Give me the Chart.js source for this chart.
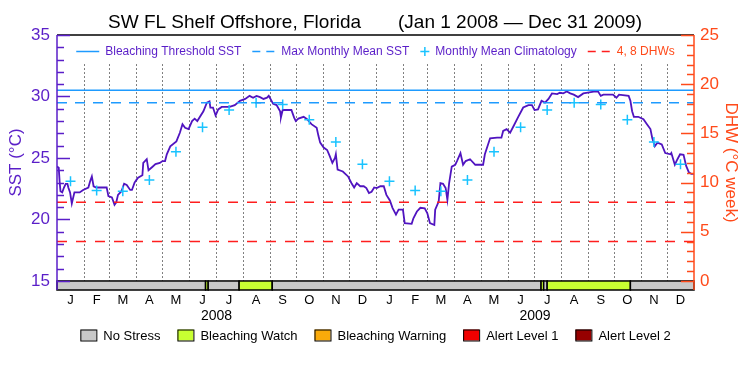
<!DOCTYPE html>
<html>
<head>
<meta charset="utf-8">
<script src="https://cdn.jsdelivr.net/npm/chart.js@4.4.0/dist/chart.umd.min.js"></script>
<style>
  html, body { margin: 0; padding: 0; background: #fff; }
</style>
</head>
<body>
<canvas id="sstChart" width="750" height="375"></canvas>
<script>
// SST time series, x = days since Jan 1 2008
const sstDays = [0, 2, 3, 4, 6, 8, 10, 12, 13, 15, 17, 20, 26, 30, 36, 38, 40, 42, 45, 57,
  59, 63, 64, 66, 68, 70, 74, 77, 80, 84, 86, 89, 91, 93, 98, 99, 103, 105, 109, 113,
  118, 121, 124, 126, 130, 137, 141, 144, 147, 151, 155, 158, 161, 168, 172, 175, 176, 179, 182, 185,
  189, 198, 204, 210, 216, 221, 225, 229, 233, 237, 241, 243, 245, 248, 252, 256, 257, 259, 269, 272,
  274, 277, 283, 287, 292, 298, 300, 302, 306, 310, 313, 316, 319, 320, 322, 328, 334, 338, 341, 344,
  348, 352, 355, 358, 361, 364, 367, 371, 375, 378, 382, 385, 389, 392, 397, 399, 407, 409, 413, 417,
  422, 425, 428, 433, 434, 438, 440, 443, 446, 448, 450, 453, 457, 459, 463, 466, 469, 474, 480, 489,
  491, 497, 505, 510, 512, 516, 520, 524, 529, 535, 541, 545, 548, 552, 556, 560, 564, 568, 574, 577,
  581, 585, 589, 593, 598, 604, 616, 621, 624, 627, 638, 642, 645, 656, 658, 660, 662, 667, 673, 677,
  681, 683, 686, 689, 694, 698, 704, 705, 709, 712, 715, 719, 722, 725, 728, 731];
const sstValues = [24.3, 24.2, 23.1, 22.3, 22.2, 22.6, 22.9, 22.9, 22.6, 22.2, 21.3, 22.2, 22.2, 22.4, 22.6, 23.1, 23.5, 22.7, 22.6, 22.6,
  21.9, 21.8, 21.6, 21.2, 21.4, 22.0, 22.3, 22.9, 22.8, 22.4, 22.4, 23.0, 23.2, 23.4, 23.6, 24.6, 24.9, 24.0, 24.25, 24.5,
  24.6, 24.75, 24.75, 25.3, 25.95, 26.35, 27.05, 27.75, 27.45, 27.35, 28.0, 28.2, 28.0, 28.8, 29.5, 29.6, 29.1, 29.1, 28.45, 28.95,
  29.15, 29.15, 29.3, 29.65, 29.8, 30.05, 29.9, 30.05, 29.95, 29.8, 29.9, 30.05, 29.8, 29.4, 29.3, 28.8, 28.3, 28.9, 28.9, 28.3,
  28.0, 28.2, 28.35, 28.15, 27.75, 27.45, 26.8, 26.25, 25.85, 25.65, 25.15, 24.6, 25.0, 25.3, 24.05, 23.9, 23.5, 22.95, 22.6, 22.95,
  22.7, 22.7, 22.55, 22.15, 22.25, 22.6, 22.55, 22.7, 22.7, 22.0, 21.55, 20.95, 20.4, 20.8, 20.8, 19.7, 19.65, 20.1, 20.65, 20.95,
  20.9, 20.5, 19.7, 19.55, 20.8, 21.45, 22.95, 22.9, 22.55, 21.6, 22.95, 24.3, 24.45, 24.75, 25.4, 24.45, 24.75, 24.9, 24.45, 24.45,
  25.3, 26.6, 26.65, 26.65, 27.2, 27.35, 27.05, 27.6, 28.3, 29.1, 29.3, 29.3, 28.9, 28.95, 29.65, 29.5, 29.8, 30.25, 30.2, 30.3,
  30.25, 30.4, 30.25, 30.15, 29.95, 30.25, 30.4, 30.4, 30.05, 30.15, 30.15, 29.9, 30.15, 30.05, 29.65, 28.8, 28.35, 28.35, 28.15, 27.75,
  27.35, 26.65, 25.95, 26.25, 26.1, 25.4, 25.3, 25.4, 24.45, 24.9, 25.3, 25.25, 24.35, 23.85, 23.7, 23.7];

// monthly mean climatology (same for both years)
const monthLabels = ["J", "F", "M", "A", "M", "J", "J", "A", "S", "O", "N", "D"];
const climValues = [23.1, 22.35, 22.3, 23.2, 25.5, 27.5, 28.9, 29.5, 29.35, 28.1, 26.3, 24.5];
const years = [2008, 2009];

const bleachingThreshold = 30.5;
const maxMonthlyMean = 29.5;
const dhwLevels = [4, 8];

// stress bar segments (days), level index into stressLabels
const stressStart = [0, 170.5, 173.5, 209, 247, 555.5, 558.5, 562.5, 658];
const stressEnd = [170.5, 173.5, 209, 247, 555.5, 558.5, 562.5, 658, 731];
const stressLevel = [0, 1, 0, 1, 0, 1, 0, 1, 0];
const stressLabels = ["No Stress", "Bleaching Watch", "Bleaching Warning", "Alert Level 1", "Alert Level 2"];
const stressColors = ["#c8c8c8", "#c8ff32", "#faaa0a", "#f00000", "#960000"];

const PURPLE = "#5a1ec8";
const DHWCOL = "#ff4a1a";
const FONT = '"Liberation Sans", Arial, sans-serif';

// helpers for dates
const DAY = 864e5;
const t0 = Date.UTC(2008, 0, 1);
const totalDays = (Date.UTC(2010, 0, 1) - t0) / DAY;
const monthStarts = [];
const monthMids = [];
years.forEach(function (y) {
  for (let m = 0; m < 12; m++) {
    const a = (Date.UTC(y, m, 1) - t0) / DAY;
    const b = (Date.UTC(y, m + 1, 1) - t0) / DAY;
    monthStarts.push(a);
    monthMids.push((a + b) / 2);
  }
});
const yearMids = years.map(function (y) {
  return ((Date.UTC(y, 0, 1) - t0) / DAY + (Date.UTC(y + 1, 0, 1) - t0) / DAY) / 2;
});

const sstPoints = sstDays.map(function (d, i) { return { x: d, y: sstValues[i] }; });
const climPoints = monthMids.map(function (d, i) { return { x: d, y: climValues[i % 12] }; });

function flatLine(v) {
  return [{ x: 0, y: v }, { x: totalDays, y: v }];
}

// draws dotted month lines + stress bar under the data
const backgroundPlugin = {
  id: "background",
  beforeDatasetsDraw(chart) {
    const ctx = chart.ctx;
    const x = chart.scales.x;
    const y = chart.scales.y;
    const area = chart.chartArea;
    ctx.save();

    // dotted month boundaries
    ctx.strokeStyle = "#000";
    ctx.lineWidth = 1;
    ctx.setLineDash([1, 3]);
    monthStarts.forEach(function (d) {
      if (d <= 0) return;
      const px = Math.round(x.getPixelForValue(d)) + 0.5;
      ctx.beginPath();
      ctx.moveTo(px, y.getPixelForValue(32.6));
      ctx.lineTo(px, y.getPixelForValue(15));
      ctx.stroke();
    });
    ctx.setLineDash([]);

    // stress bar
    const top = y.getPixelForValue(15);
    const bottom = area.bottom;
    stressStart.forEach(function (s, i) {
      const x0 = x.getPixelForValue(s);
      const x1 = x.getPixelForValue(stressEnd[i]);
      ctx.fillStyle = stressColors[stressLevel[i]];
      ctx.fillRect(x0, top, x1 - x0, bottom - top);
      ctx.strokeStyle = "#000";
      ctx.lineWidth = 1.5;
      ctx.strokeRect(x0, top, x1 - x0, bottom - top);
    });
    ctx.restore();
  },

  afterDraw(chart) {
    const ctx = chart.ctx;
    const area = chart.chartArea;
    const y = chart.scales.y;
    const y2 = chart.scales.y2;
    ctx.save();

    // frame
    ctx.lineWidth = 1.5;
    ctx.strokeStyle = "#000";
    ctx.beginPath();
    ctx.moveTo(area.left, area.top);
    ctx.lineTo(area.right, area.top);
    ctx.stroke();

    ctx.strokeStyle = PURPLE;
    ctx.beginPath();
    ctx.moveTo(area.left, area.top);
    ctx.lineTo(area.left, area.bottom);
    ctx.stroke();
    y.ticks.forEach(function (t) {
      const py = Math.round(y.getPixelForValue(t.value)) + 0.5;
      const len = t.value % 5 === 0 ? 13 : 7;
      ctx.beginPath();
      ctx.moveTo(area.left, py);
      ctx.lineTo(area.left + len, py);
      ctx.stroke();
    });

    ctx.strokeStyle = DHWCOL;
    ctx.beginPath();
    ctx.moveTo(area.right, area.top);
    ctx.lineTo(area.right, area.bottom);
    ctx.stroke();
    y2.ticks.forEach(function (t) {
      const py = Math.round(y2.getPixelForValue(t.value)) + 0.5;
      const len = t.value % 5 === 0 ? 13 : 7;
      ctx.beginPath();
      ctx.moveTo(area.right, py);
      ctx.lineTo(area.right - len, py);
      ctx.stroke();
    });

    // top legend (inside plot)
    const items = chart.data.datasets.filter(function (d) { return d.legendKind; });
    ctx.font = "12px " + FONT;
    ctx.textBaseline = "middle";
    const widths = items.map(function (d) {
      return (d.legendKind === "cross" ? 9 : 23) + 6 + ctx.measureText(d.label).width;
    });
    const total = widths.reduce(function (a, b) { return a + b; }, 0) + 11 * (items.length - 1);
    let lx = (area.left + area.right) / 2 - total / 2;
    const ly = area.top + 16.5;
    items.forEach(function (d, i) {
      const sw = d.legendKind === "cross" ? 9 : 23;
      ctx.strokeStyle = d.legendKind === "cross" ? d.pointBorderColor : d.borderColor;
      ctx.lineWidth = 1.5;
      ctx.setLineDash(d.legendKind === "dash" ? [8, 6] : []);
      ctx.beginPath();
      if (d.legendKind === "cross") {
        ctx.moveTo(lx, ly); ctx.lineTo(lx + sw, ly);
        ctx.moveTo(lx + sw / 2, ly - 4.5); ctx.lineTo(lx + sw / 2, ly + 4.5);
      } else {
        ctx.moveTo(lx, ly); ctx.lineTo(lx + sw, ly);
      }
      ctx.stroke();
      ctx.setLineDash([]);
      ctx.fillStyle = d.legendColor;
      ctx.fillText(d.label, lx + sw + 6, ly);
      lx += widths[i] + 11;
    });

    // stress legend (bottom)
    ctx.font = "13px " + FONT;
    const bw = 16, bh = 11;
    const sw2 = stressLabels.map(function (s) { return bw + 7 + ctx.measureText(s).width; });
    const tot2 = sw2.reduce(function (a, b) { return a + b; }, 0) + 17 * (stressLabels.length - 1);
    let bx = (area.left + area.right) / 2 - tot2 / 2;
    const by = 335;
    stressLabels.forEach(function (s, i) {
      ctx.fillStyle = stressColors[i];
      ctx.fillRect(bx, by - bh / 2, bw, bh);
      ctx.strokeStyle = "#000";
      ctx.lineWidth = 1;
      ctx.strokeRect(bx + 0.5, by - bh / 2 + 0.5, bw, bh);
      ctx.fillStyle = "#000";
      ctx.fillText(s, bx + bw + 7, by + 1);
      bx += sw2[i] + 17;
    });
    ctx.restore();
  }
};

const ctx = document.getElementById("sstChart").getContext("2d");
new Chart(ctx, {
  type: "line",
  data: {
    datasets: [
      {
        label: "Bleaching Threshold SST",
        data: flatLine(bleachingThreshold),
        borderColor: "#1e9bff",
        borderWidth: 1.5,
        pointRadius: 0,
        yAxisID: "y",
        legendKind: "line",
        legendColor: PURPLE,
      },
      {
        label: "Max Monthly Mean SST",
        data: flatLine(maxMonthlyMean),
        borderColor: "#1e9bff",
        borderWidth: 1.5,
        borderDash: [10, 8],
        pointRadius: 0,
        yAxisID: "y",
        legendKind: "dash",
        legendColor: PURPLE,
      },
      {
        label: "Monthly Mean Climatology",
        data: climPoints,
        showLine: false,
        pointStyle: "cross",
        pointRadius: 5,
        pointBorderWidth: 1.5,
        pointBorderColor: "#19c3ff",
        borderColor: "#19c3ff",
        yAxisID: "y",
        legendKind: "cross",
        legendColor: PURPLE,
      },
      {
        label: "4, 8 DHWs",
        data: flatLine(dhwLevels[0]),
        borderColor: "#ff1e1e",
        borderWidth: 1.5,
        borderDash: [10, 9],
        pointRadius: 0,
        yAxisID: "y2",
        legendKind: "dash",
        legendColor: DHWCOL,
      },
      {
        label: "8 DHW",
        data: flatLine(dhwLevels[1]),
        borderColor: "#ff1e1e",
        borderWidth: 1.5,
        borderDash: [10, 9],
        pointRadius: 0,
        yAxisID: "y2",
      },
      {
        label: "SST",
        data: sstPoints,
        borderColor: "#5014c0",
        borderWidth: 1.8,
        pointRadius: 0,
        tension: 0,
        yAxisID: "y",
      },
    ],
  },
  options: {
    responsive: false,
    animation: false,
    layout: { padding: { left: 0, right: 0, top: 0, bottom: 49 } },
    plugins: {
      legend: { display: false },
      tooltip: { enabled: false },
      title: {
        display: true,
        text: "SW FL Shelf Offshore, Florida       (Jan 1 2008 \u2014 Dec 31 2009)",
        color: "#000",
        font: { family: FONT, size: 19, weight: "normal" },
        padding: { top: 11, bottom: 1.2 },
      },
    },
    scales: {
      x: {
        type: "linear",
        position: "bottom",
        min: 0,
        max: totalDays,
        grid: { display: false, drawTicks: false },
        border: { display: false },
        afterBuildTicks: function (s) {
          s.ticks = monthMids.map(function (v) { return { value: v }; });
        },
        ticks: {
          autoSkip: false,
          maxRotation: 0,
          padding: 3,
          color: "#000",
          font: { family: FONT, size: 13 },
          callback: function (v, i) { return monthLabels[i % 12]; },
        },
        afterFit: function (s) { s.height = 16; },
      },
      xYear: {
        type: "linear",
        position: "bottom",
        min: 0,
        max: totalDays,
        grid: { display: false, drawTicks: false },
        border: { display: false },
        afterBuildTicks: function (s) {
          s.ticks = yearMids.map(function (v) { return { value: v }; });
        },
        ticks: {
          autoSkip: false,
          maxRotation: 0,
          padding: 2,
          color: "#000",
          font: { family: FONT, size: 14 },
          callback: function (v, i) { return String(years[i]); },
        },
        afterFit: function (s) { s.height = 20; },
      },
      y: {
        position: "left",
        min: 15 - 9 / 12.25,
        max: 35,
        grid: { display: false, drawTicks: false },
        border: { display: false },
        afterBuildTicks: function (s) {
          const t = [];
          for (let v = 15; v <= 35; v++) t.push({ value: v });
          s.ticks = t;
        },
        ticks: {
          autoSkip: false,
          padding: 7,
          color: PURPLE,
          font: { family: FONT, size: 17 },
          callback: function (v) { return v % 5 === 0 ? String(v) : ""; },
        },
        title: {
          display: true,
          text: "SST (\u00b0C)",
          color: PURPLE,
          font: { family: FONT, size: 17 },
          padding: { top: 6, bottom: 0 },
        },
        afterFit: function (s) { s.width = 57; },
      },
      y2: {
        position: "right",
        min: -9 / 9.8,
        max: 25,
        grid: { display: false, drawTicks: false },
        border: { display: false },
        afterBuildTicks: function (s) {
          const t = [];
          for (let v = 0; v <= 25; v++) t.push({ value: v });
          s.ticks = t;
        },
        ticks: {
          autoSkip: false,
          padding: 6,
          color: DHWCOL,
          font: { family: FONT, size: 17 },
          callback: function (v) { return v % 5 === 0 ? String(v) : ""; },
        },
        title: {
          display: true,
          text: "DHW (\u00b0C week)",
          color: DHWCOL,
          font: { family: FONT, size: 17 },
          padding: { top: 9, bottom: 0 },
        },
        afterFit: function (s) { s.width = 56; },
      },
    },
  },
  plugins: [backgroundPlugin],
});
</script>
</body>
</html>
